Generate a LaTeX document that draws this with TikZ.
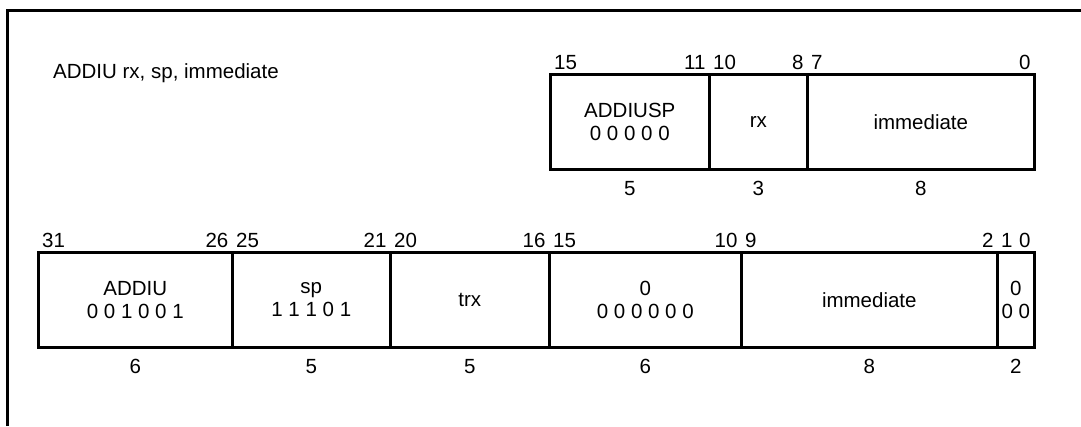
\documentclass[tikz,border=0pt]{standalone}
\usepackage{fontspec}
\setmainfont{Liberation Sans}
\begin{document}
\begin{tikzpicture}[x=1pt,y=-1pt,
  every node/.style={font=\fontsize{20.5}{23}\selectfont, inner sep=0pt},
  fieldbox/.style={draw, line width=2.6pt, anchor=north west, align=center, minimum height=95pt},
  bitl/.style={anchor=base west, xshift=5pt, yshift=4pt},
  bitr/.style={anchor=base east, xshift=-5pt, yshift=4pt},
  cnt/.style={anchor=base, yshift=-25pt},
  frame/.style={line width=3pt}]
\useasboundingbox (0,0) rectangle (1081,426);
\coordinate (fa) at (7.5,426);
\coordinate (fb) at (7.5,10);
\coordinate (fc) at (1081,10);
\draw[frame] (fa) -- (fb) -- (fc);

\node[anchor=base west] (title) at (53,78) {ADDIU rx, sp, immediate};

% 16-bit format
\node[fieldbox, minimum width=159pt] (a1) at (549,73) {ADDIUSP\\0 0 0 0 0};
\node[fieldbox, minimum width=98pt] (a2) at (708,73) {rx};
\node[fieldbox, minimum width=227pt] (a3) at (806,73) {immediate};
\node[bitl] (a1l) at (a1.north west) {15};
\node[bitr] (a1r) at (a1.north east) {11};
\node[bitl] (a2l) at (a2.north west) {10};
\node[bitr] (a2r) at (a2.north east) {8};
\node[bitl] (a3l) at (a3.north west) {7};
\node[bitr] (a3r) at (a3.north east) {0};
\node[cnt] (a1c) at (a1.south) {5};
\node[cnt] (a2c) at (a2.south) {3};
\node[cnt] (a3c) at (a3.south) {8};

% 32-bit format
\node[fieldbox, minimum width=194pt] (b1) at (37,251) {ADDIU\\0 0 1 0 0 1};
\node[fieldbox, minimum width=158pt] (b2) at (231,251) {sp\\1 1 1 0 1};
\node[fieldbox, minimum width=159pt] (b3) at (389,251) {trx};
\node[fieldbox, minimum width=192pt] (b4) at (548,251) {0\\0 0 0 0 0 0};
\node[fieldbox, minimum width=256pt] (b5) at (740,251) {immediate};
\node[fieldbox, minimum width=37pt] (b6) at (996,251) {0\\0 0};
\node[bitl] (b1l) at (b1.north west) {31};
\node[bitr] (b1r) at (b1.north east) {26};
\node[bitl] (b2l) at (b2.north west) {25};
\node[bitr] (b2r) at (b2.north east) {21};
\node[bitl] (b3l) at (b3.north west) {20};
\node[bitr] (b3r) at (b3.north east) {16};
\node[bitl] (b4l) at (b4.north west) {15};
\node[bitr] (b4r) at (b4.north east) {10};
\node[bitl] (b5l) at (b5.north west) {9};
\node[bitr] (b5r) at (b5.north east) {2};
\node[bitl] (b6l) at (b6.north west) {1};
\node[bitr] (b6r) at (b6.north east) {0};
\node[cnt] (b1c) at (b1.south) {6};
\node[cnt] (b2c) at (b2.south) {5};
\node[cnt] (b3c) at (b3.south) {5};
\node[cnt] (b4c) at (b4.south) {6};
\node[cnt] (b5c) at (b5.south) {8};
\node[cnt] (b6c) at (b6.south) {2};
\end{tikzpicture}
\end{document}
